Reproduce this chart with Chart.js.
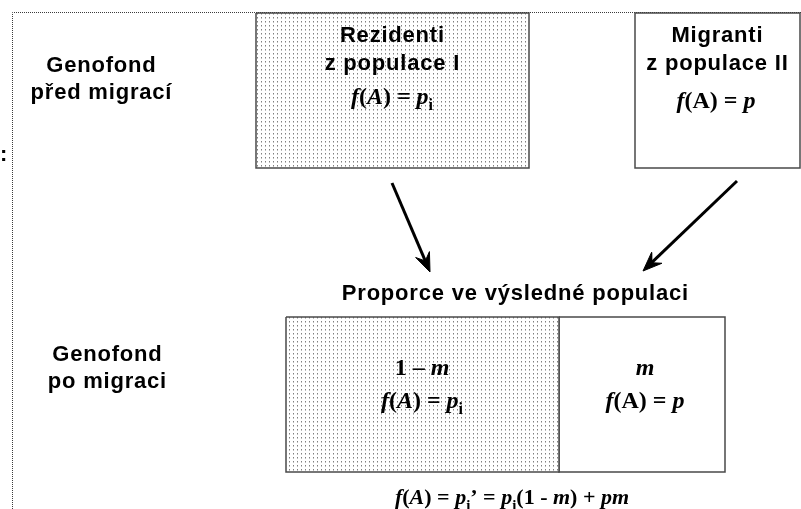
<!DOCTYPE html>
<html>
<head>
<meta charset="utf-8">
<script src="https://cdn.jsdelivr.net/npm/chart.js@4.4.0/dist/chart.umd.min.js"></script>
<style>
  html, body { margin: 0; padding: 0; background: #fff; }
  #diagram { display: block; }
</style>
</head>
<body>
<canvas id="diagram" width="801" height="509"></canvas>
<script>
// Boxes of the scheme, in slide units (x to the right, y downwards)
const boxLeft   = [256, 635, 286, 559];
const boxRight  = [529, 800, 559, 725];
const boxTop    = [13, 13, 317, 317];
const boxBottom = [168, 168, 472, 472];
const boxShaded = [true, false, true, false];

// Arrows from the source populations to the resulting one
const arrowFromX = [392, 737];
const arrowFromY = [183, 181];
const arrowToX   = [430, 643];
const arrowToY   = [272, 271];

// Dotted frame on the left and top
const frameX = [12.5, 12.5, 801];
const frameY = [509, 12.5, 12.5];

// Texts
const sideLabels   = [['Genofond', 'před migrací'], ['Genofond', 'po migraci']];
const boxTitles    = [['Rezidenti', 'z populace I'], ['Migranti', 'z populace II']];
const resultTitle  = 'Proporce ve výsledné populaci';
// formula pieces: [text, style]  b = bold, bi = bold italic, sub = subscript
const fResident = [['f', 'bi'], ['(', 'b'], ['A', 'bi'], [')', 'b'], [' = ', 'b'], ['p', 'bi'], ['i', 'sub']];
const fMigrant  = [['f', 'bi'], ['(A)', 'b'], [' = ', 'b'], ['p', 'bi']];
const fOneMinus = [['1 \u2013 ', 'b'], ['m', 'bi']];
const fM        = [['m', 'bi']];
const fResult   = [['f', 'bi'], ['(', 'b'], ['A', 'bi'], [')', 'b'], [' = ', 'b'], ['p', 'bi'], ['i', 'sub'], ['\u2019', 'b'],
                   [' = ', 'b'], ['p', 'bi'], ['i', 'sub'], ['(1 - ', 'b'], ['m', 'bi'], [') + ', 'b'], ['pm', 'bi']];

// dotted fill like the original slide
function dotPattern() {
    const tile = document.createElement('canvas');
    tile.width = 4; tile.height = 4;
    const t = tile.getContext('2d');
    t.fillStyle = '#ffffff';
    t.fillRect(0, 0, 4, 4);
    t.fillStyle = '#808080';
    t.fillRect(1, 1, 1, 1);
    t.fillStyle = '#bdbdbd';
    t.fillRect(1, 2, 1, 1);
    return t.createPattern(tile, 'repeat');
}
const shade = dotPattern();

const datasets = [];

// frame
datasets.push({
    data: frameX.map((x, i) => ({ x: x, y: frameY[i] })),
    showLine: true, borderColor: '#3c3c3c', borderWidth: 1, borderDash: [1, 1],
    pointRadius: 0, fill: false
});

// boxes
boxLeft.forEach((l, i) => {
    const r = boxRight[i], t = boxTop[i], b = boxBottom[i];
    datasets.push({
        data: [{ x: l, y: t }, { x: r, y: t }, { x: r, y: b }, { x: l, y: b }, { x: l, y: t }],
        showLine: true, borderColor: '#4a4a4a', borderWidth: 1.5,
        backgroundColor: boxShaded[i] ? shade : '#ffffff',
        fill: 'shape', pointRadius: 0
    });
});

// arrows: shaft + head
arrowFromX.forEach((x0, i) => {
    const y0 = arrowFromY[i], x1 = arrowToX[i], y1 = arrowToY[i];
    const len = Math.hypot(x1 - x0, y1 - y0);
    const ux = (x1 - x0) / len, uy = (y1 - y0) / len;
    const nx = -uy, ny = ux;
    const back = 19, notch = 12, half = 7.5;
    datasets.push({
        data: [{ x: x0, y: y0 }, { x: x1 - ux * notch, y: y1 - uy * notch }],
        showLine: true, borderColor: '#000', borderWidth: 3, pointRadius: 0, fill: false
    });
    datasets.push({
        data: [
            { x: x1, y: y1 },
            { x: x1 - ux * back + nx * half, y: y1 - uy * back + ny * half },
            { x: x1 - ux * notch, y: y1 - uy * notch },
            { x: x1 - ux * back - nx * half, y: y1 - uy * back - ny * half },
            { x: x1, y: y1 }
        ],
        showLine: true, borderColor: '#000', borderWidth: 1, backgroundColor: '#000',
        fill: 'shape', pointRadius: 0
    });
});

const SANS = '"Liberation Sans", Arial, sans-serif';
const SERIF = '"Liberation Serif", "Times New Roman", serif';

function drawPlain(ctx, text, cx, by, size, spacing) {
    ctx.font = 'bold ' + size + 'px ' + SANS;
    ctx.letterSpacing = spacing + 'px';
    const w = ctx.measureText(text).width - spacing;
    ctx.fillText(text, cx - w / 2, by);
    ctx.letterSpacing = '0px';
}

function drawRich(ctx, segs, cx, by, size) {
    const fonts = {
        b: 'bold ' + size + 'px ' + SERIF,
        bi: 'italic bold ' + size + 'px ' + SERIF,
        sub: 'bold ' + Math.round(size * 0.68) + 'px ' + SERIF
    };
    let w = 0;
    segs.forEach(s => { ctx.font = fonts[s[1]]; w += ctx.measureText(s[0]).width; });
    let x = cx - w / 2;
    segs.forEach(s => {
        ctx.font = fonts[s[1]];
        ctx.fillText(s[0], x, s[1] === 'sub' ? by + size * 0.25 : by);
        x += ctx.measureText(s[0]).width;
    });
}

const textPlugin = {
    id: 'schemeText',
    afterDatasetsDraw(chart) {
        const ctx = chart.ctx;
        const X = v => chart.scales.x.getPixelForValue(v);
        const Y = v => chart.scales.y.getPixelForValue(v);
        ctx.save();
        ctx.fillStyle = '#000';
        ctx.textBaseline = 'alphabetic';
        ctx.textAlign = 'left';

        drawPlain(ctx, sideLabels[0][0], X(101), Y(72), 22, 0.8);
        drawPlain(ctx, sideLabels[0][1], X(101), Y(99), 22, 0.8);
        drawPlain(ctx, sideLabels[1][0], X(107), Y(361), 22, 0.8);
        drawPlain(ctx, sideLabels[1][1], X(107), Y(388), 22, 0.8);

        drawPlain(ctx, boxTitles[0][0], X(392), Y(42), 22, 0.8);
        drawPlain(ctx, boxTitles[0][1], X(392), Y(70), 22, 0.8);
        drawPlain(ctx, boxTitles[1][0], X(717), Y(42), 22, 0.8);
        drawPlain(ctx, boxTitles[1][1], X(717), Y(70), 22, 0.8);

        drawPlain(ctx, resultTitle, X(515), Y(300), 22, 0.8);

        drawRich(ctx, fResident, X(392), Y(104), 24);
        drawRich(ctx, fMigrant, X(716), Y(108), 24);
        drawRich(ctx, fOneMinus, X(422), Y(375), 24);
        drawRich(ctx, fResident, X(422), Y(408), 24);
        drawRich(ctx, fM, X(645), Y(375), 24);
        drawRich(ctx, fMigrant, X(645), Y(408), 24);
        drawRich(ctx, fResult, X(512), Y(504), 22);

        ctx.font = 'bold 22px ' + SANS;
        ctx.fillText(':', X(0), Y(161));
        ctx.restore();
    }
};

new Chart(document.getElementById('diagram'), {
    type: 'scatter',
    data: { datasets: datasets },
    options: {
        responsive: false,
        animation: false,
        devicePixelRatio: 1,
        layout: { padding: 0 },
        elements: { line: { tension: 0 } },
        scales: {
            x: { type: 'linear', min: 0, max: 801, display: false },
            y: { type: 'linear', min: 0, max: 509, reverse: true, display: false }
        },
        plugins: { legend: { display: false }, tooltip: { enabled: false } }
    },
    plugins: [textPlugin]
});
</script>
</body>
</html>
